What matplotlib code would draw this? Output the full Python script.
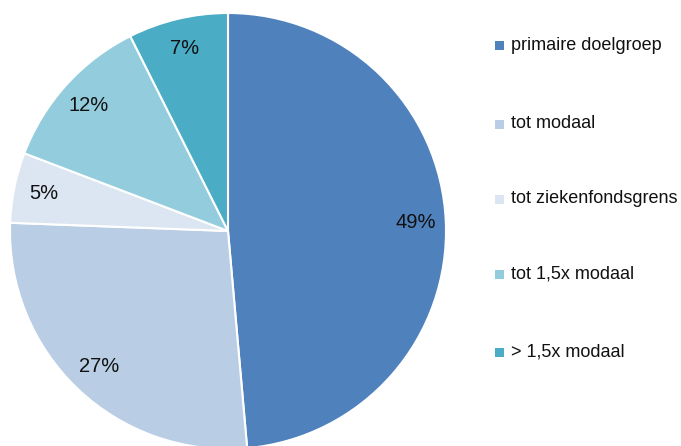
import matplotlib
matplotlib.use('Agg')
import matplotlib.pyplot as plt
from matplotlib.patches import Rectangle

# data (wedge sizes, labels rounded as shown)
categories = ["primaire doelgroep", "tot modaal", "tot ziekenfondsgrens",
              "tot 1,5x modaal", "> 1,5x modaal"]
shares = [48.6, 27.0, 5.2, 11.8, 7.4]
colors = ["#4F81BD", "#B9CDE5", "#DCE6F2", "#93CDDD", "#4BACC6"]

plt.rcParams['font.family'] = ['Liberation Sans', 'DejaVu Sans']

W, H = 681, 446
fig = plt.figure(figsize=(W / 100, H / 100), dpi=100)

cx, cy, r = 228, 231, 218
ax = fig.add_axes([(cx - r) / W, (H - cy - r) / H, 2 * r / W, 2 * r / H])
wedges, texts, autotexts = ax.pie(
    shares, colors=colors, startangle=90, counterclock=False,
    autopct=lambda p: f"{p:.0f}%", pctdistance=0.86,
    wedgeprops=dict(edgecolor="white", linewidth=1.5),
    textprops=dict(fontsize=14.5, color="#111111"),
    radius=1.0,
)
ax.set_xlim(-1, 1)
ax.set_ylim(-1, 1)
ax.set_aspect("equal")
ax.axis("off")

# legend, drawn by hand
rows_y = [45, 124, 199, 274, 352]
for name, col, y in zip(categories, colors, rows_y):
    fig.patches.append(Rectangle((495 / W, (H - y - 4.5) / H), 9 / W, 9 / H,
                                 transform=fig.transFigure, facecolor=col,
                                 edgecolor="none"))
    fig.text(511 / W, (H - y) / H, name, fontsize=12.95, va="center",
             ha="left", color="#111111")

fig.savefig("out.png", dpi=100)
plt.close(fig)
